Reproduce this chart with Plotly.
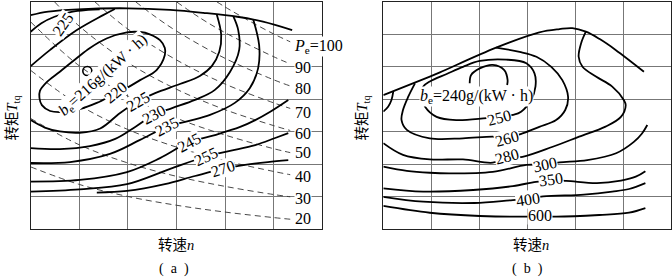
import plotly.graph_objects as go

# ---------------- panel (a) data (grid units: x = speed, y = torque) ----------------
A_FULL_X = [0, 0.36, 0.97, 2.0, 2.87, 3.55, 4.25, 4.78, 5.38]
A_FULL_Y = [6.59, 6.70, 6.77, 6.80, 6.75, 6.66, 6.54, 6.39, 6.13]

A_225A_X = [0, 0.22, 0.49, 0.84, 1.18, 1.42]
A_225A_Y = [6.08, 6.34, 6.54, 6.69, 6.75, 6.77]

A_225B_X = [0, 0.40, 0.95, 1.49, 1.73]
A_225B_Y = [5.02, 5.52, 6.13, 6.59, 6.78]

A_220_X = [2.76, 2.59, 2.25, 1.98, 1.69, 1.36, 1.01, 0.66, 0.40, 0.23, 0.18, 0.19, 0.33,
           0.60, 0.95, 1.22, 1.56, 1.98, 2.25, 2.45, 2.66, 2.76, 2.76]
A_220_Y = [5.36, 4.90, 4.59, 4.35, 4.13, 3.89, 3.70, 3.61, 3.64, 3.82, 4.04, 4.26, 4.53,
           4.85, 5.27, 5.58, 5.87, 6.06, 6.07, 6.00, 5.82, 5.58, 5.36]

A_225_X = [0, 0.29, 0.60, 1.01, 1.43, 1.84, 2.21, 2.56, 3.07, 3.48, 3.73, 3.88, 3.92, 3.83]
A_225_Y = [3.36, 3.13, 3.01, 2.97, 3.10, 3.58, 3.94, 4.19, 4.47, 4.72, 5.03, 5.46, 5.98, 6.60]

A_230_X = [0, 0.60, 1.22, 1.74, 2.15, 2.54, 2.91, 3.38, 3.79, 4.10, 4.29, 4.27, 4.17]
A_230_Y = [2.50, 2.47, 2.56, 2.78, 3.15, 3.53, 3.73, 3.98, 4.29, 4.84, 5.52, 6.13, 6.55]

A_235_X = [0, 0.81, 1.63, 2.25, 2.80, 3.24, 3.69, 4.20, 4.51, 4.68, 4.70, 4.58]
A_235_Y = [2.04, 2.07, 2.32, 2.75, 3.15, 3.33, 3.52, 3.89, 4.35, 4.96, 5.67, 6.45]

A_245_X = [0, 1.01, 1.98, 2.66, 3.26, 3.79, 4.31, 4.62, 4.92, 5.30]
A_245_Y = [1.47, 1.52, 1.76, 2.19, 2.68, 2.90, 3.15, 3.36, 3.61, 3.98]

A_255_X = [0, 1.01, 1.98, 2.87, 3.61, 4.10, 4.62, 5.03, 5.30]
A_255_Y = [1.16, 1.23, 1.39, 1.86, 2.24, 2.41, 2.59, 2.81, 2.96]

A_270_X = [1.36, 1.98, 2.76, 3.38, 3.96, 4.41, 4.88, 5.30]
A_270_Y = [1.13, 1.18, 1.39, 1.64, 1.86, 1.98, 2.07, 2.13]

A_BEST_X = [1.165]
A_BEST_Y = [4.87]

# constant-power lines (kW)
P_LEVELS = [20, 30, 40, 50, 60, 70, 80, 90, 100]
P20_X = [0, 1, 2, 3, 4, 5, 5.34];  P20_Y = [1.92, 1.38, 1.01, 0.74, 0.53, 0.36, 0.31]
P30_X = [0, 1, 2, 3, 4, 5, 5.34];  P30_Y = [3.41, 2.60, 2.04, 1.63, 1.32, 1.07, 1.00]
P40_X = [0, 1, 2, 3, 4, 5, 5.34];  P40_Y = [4.89, 3.82, 3.07, 2.53, 2.11, 1.78, 1.68]
P50_X = [0, 1, 2, 3, 4, 5, 5.34];  P50_Y = [6.38, 5.03, 4.10, 3.42, 2.90, 2.48, 2.36]
P60_X = [0.49, 1, 2, 3, 4, 5, 5.34];  P60_Y = [7.0, 6.25, 5.13, 4.31, 3.68, 3.19, 3.04]
P70_X = [1.32, 2, 3, 4, 5, 5.34];  P70_Y = [7.0, 6.16, 5.21, 4.47, 3.89, 3.72]
P80_X = [2.16, 2.5, 3, 4, 5, 5.34];  P80_Y = [7.0, 6.61, 6.10, 5.26, 4.60, 4.41]
P90_X = [3.0, 3.5, 4, 5, 5.34];  P90_Y = [7.0, 6.49, 6.05, 5.31, 5.09]
P100_X = [3.83, 4, 4.5, 5, 5.34];  P100_Y = [7.0, 6.84, 6.41, 6.01, 5.77]
P_LABEL_Y = [0.32, 0.96, 1.64, 2.35, 2.96, 3.59, 4.32, 4.99, 5.64]

A_LABELS = ["225", "220", "225", "230", "235", "245", "255", "270"]
A_LABEL_X = [0.66, 1.75, 2.21, 2.54, 2.80, 3.26, 3.61, 3.96]
A_LABEL_Y = [6.30, 4.20, 3.94, 3.53, 3.15, 2.68, 2.24, 1.86]
A_MIN_TEXT = "<i>b</i><sub>e</sub>=216g/(kW · h)"
A_MIN_XY = (1.49, 4.72)

# ---------------- panel (b) data ----------------
B_FULL_X = [0, 0.97, 1.18, 2.35, 3.25, 3.67, 3.94, 4.22, 4.50, 4.84, 5.43]
B_FULL_Y = [4.13, 4.70, 4.83, 5.59, 6.06, 6.16, 6.19, 6.08, 5.86, 5.52, 4.85]

B_SMALL_X = [0.21, 0.17, 0.10, 0]
B_SMALL_Y = [4.25, 3.98, 3.77, 3.62]

B_240_X = [1.80, 1.83, 2.01, 2.28, 2.52, 2.59, 2.58]
B_240_Y = [4.49, 4.75, 4.95, 5.06, 4.90, 4.59, 4.44]

B_250_X = [0.83, 0.97, 1.32, 1.66, 2.01, 2.56, 2.98, 3.15, 3.17, 3.08, 2.87, 2.70, 2.42,
           2.15, 1.52, 1.11, 0.87, 0.80, 0.83]
B_250_Y = [4.39, 4.55, 4.78, 5.00, 5.18, 5.22, 5.11, 4.80, 4.39, 3.98, 3.62, 3.52, 3.45,
           3.42, 3.36, 3.46, 3.77, 4.08, 4.39]

B_260_X = [0.66, 0.52, 0.41, 0.38, 0.49, 0.97, 1.66, 2.28, 2.58, 2.90, 3.25, 3.60, 3.79,
           3.85, 3.73, 3.50, 3.19, 2.84, 2.35]
B_260_Y = [4.49, 4.08, 3.67, 3.36, 3.06, 2.80, 2.80, 2.85, 2.82, 2.95, 3.15, 3.36, 3.67,
           4.07, 4.59, 5.00, 5.31, 5.46, 5.59]

B_280_X = [0, 0.41, 0.97, 1.66, 2.28, 2.57, 2.90, 3.53, 4.08, 4.63, 4.95, 5.05, 5.01, 4.77,
           4.43, 4.15, 4.07, 4.12, 4.22]
B_280_Y = [2.65, 2.29, 2.15, 2.15, 2.05, 2.20, 2.23, 2.54, 2.85, 3.16, 3.46, 3.82, 3.98, 4.39,
           4.70, 5.00, 5.31, 5.72, 6.08]

B_300_X = [0, 0.49, 0.97, 1.38, 2.28, 2.98, 3.37, 3.67, 4.25, 4.85, 5.22, 5.39, 5.50]
B_300_Y = [1.93, 1.80, 1.74, 1.72, 1.77, 1.98, 2.00, 2.06, 2.13, 2.34, 2.69, 2.95, 3.21]

B_350_X = [0, 0.83, 1.87, 2.70, 3.18, 3.49, 3.81, 4.45, 4.95, 5.26, 5.46]
B_350_Y = [1.26, 1.16, 1.21, 1.33, 1.46, 1.50, 1.49, 1.42, 1.50, 1.62, 1.79]

B_400_X = [0, 0.83, 1.90, 2.70, 3.01, 3.33, 4.18, 4.77, 5.12, 5.46]
B_400_Y = [1.00, 0.85, 0.81, 0.90, 0.93, 1.01, 1.07, 1.16, 1.24, 1.42]

B_600_X = [0, 0.97, 2.01, 2.98, 3.27, 3.60, 4.50, 5.12, 5.46]
B_600_Y = [0.72, 0.51, 0.41, 0.39, 0.41, 0.39, 0.44, 0.51, 0.65]

B_LABELS = ["250", "260", "280", "300", "350", "400", "600"]
B_LABEL_X = [2.42, 2.58, 2.57, 3.37, 3.49, 3.01, 3.27]
B_LABEL_Y = [3.45, 2.80, 2.24, 1.99, 1.52, 0.93, 0.42]
B_MIN_TEXT = "<i>b</i><sub>e</sub>=240g/(kW · h)"
B_MIN_XY = (1.94, 4.10)

# ---------------- styles ----------------
W, H = 672, 280
NUM_FONT = "Liberation Serif, Times New Roman, serif"
CJK_FONT = "Liberation Serif, Noto Sans CJK SC, serif"
A_ANGLES = [-55, -40, -30, -28, -28, -28, -25, -18]
B_ANGLES = [-15, -15, -15, -12, -8, -8, 0]

fig = go.Figure()


def curve(xs, ys, sub, dash=None, width=1.8, color="black"):
    xa, ya = ("x", "y") if sub == 1 else ("x2", "y2")
    fig.add_trace(go.Scatter(
        x=xs, y=ys, mode="lines", xaxis=xa, yaxis=ya, hoverinfo="skip",
        line=dict(color=color, width=width, shape="spline", smoothing=1.0,
                  dash=dash)))


def label(text, x, y, sub, angle=0, size=16, bg="white", xanchor="center"):
    xr, yr = ("x", "y") if sub == 1 else ("x2", "y2")
    fig.add_annotation(x=x, y=y, xref=xr, yref=yr, text=text, showarrow=False,
                       textangle=angle, xanchor=xanchor, yanchor="middle",
                       font=dict(family=NUM_FONT, size=size, color="black"),
                       bgcolor=bg, borderpad=0)


# power lines (dashed)
P_SERIES = [(P20_X, P20_Y), (P30_X, P30_Y), (P40_X, P40_Y), (P50_X, P50_Y),
            (P60_X, P60_Y), (P70_X, P70_Y), (P80_X, P80_Y), (P90_X, P90_Y),
            (P100_X, P100_Y)]
for xs, ys in P_SERIES:
    curve(xs, ys, 1, dash="6px,4px", width=0.9, color="#333333")

# panel (a) contours
for xs, ys in [(A_FULL_X, A_FULL_Y), (A_225A_X, A_225A_Y), (A_225B_X, A_225B_Y),
               (A_220_X, A_220_Y), (A_225_X, A_225_Y), (A_230_X, A_230_Y),
               (A_235_X, A_235_Y), (A_245_X, A_245_Y), (A_255_X, A_255_Y),
               (A_270_X, A_270_Y)]:
    curve(xs, ys, 1)

fig.add_trace(go.Scatter(x=A_BEST_X, y=A_BEST_Y, mode="markers", hoverinfo="skip",
                         marker=dict(symbol="circle-open", size=9, color="black",
                                     line=dict(width=1.6))))

# panel (b) contours
for xs, ys in [(B_FULL_X, B_FULL_Y), (B_SMALL_X, B_SMALL_Y), (B_240_X, B_240_Y),
               (B_250_X, B_250_Y), (B_260_X, B_260_Y), (B_280_X, B_280_Y),
               (B_300_X, B_300_Y), (B_350_X, B_350_Y), (B_400_X, B_400_Y),
               (B_600_X, B_600_Y)]:
    curve(xs, ys, 2)

# contour labels
for t, x, y, a in zip(A_LABELS, A_LABEL_X, A_LABEL_Y, A_ANGLES):
    label(t, x, y, 1, a)
label(A_MIN_TEXT, A_MIN_XY[0], A_MIN_XY[1], 1, -42)
for t, x, y, a in zip(B_LABELS, B_LABEL_X, B_LABEL_Y, B_ANGLES):
    label(t, x, y, 2, a)
label(B_MIN_TEXT, B_MIN_XY[0], B_MIN_XY[1], 2, 0)

# power labels at the right of panel (a)
for p, y in zip(P_LEVELS, P_LABEL_Y):
    if p == 100:
        label("<i>P</i><sub>e</sub>=100", 5.40, y, 1, 0, xanchor="left")
    else:
        label(str(p), 5.41, y, 1, 0, xanchor="left")


# axis titles and captions (paper coords)
def paper_text(text, px, py, angle=0, size=14.5):
    fig.add_annotation(x=px / W, y=1 - py / H, xref="paper", yref="paper", text=text,
                       showarrow=False, textangle=angle, xanchor="center",
                       yanchor="middle", font=dict(family=CJK_FONT, size=size,
                                                   color="black"))


paper_text("转矩<i>T</i><sub>tq</sub>", 12.5, 118, -90)
paper_text("转矩<i>T</i><sub>tq</sub>", 362.5, 118, -90)
paper_text("转速<i>n</i>", 175.5, 244.5)
paper_text("转速<i>n</i>", 531, 244.5)
paper_text("(\u2002a\u2002)", 174, 269, size=14)
paper_text("(\u2002b\u2002)", 527, 269, size=14)

ydom = [1 - 229.3 / H, 1 - 1.8 / H]
ax_common = dict(range=[0, 6], dtick=1, tick0=0, showgrid=True, gridcolor="#777777",
                 gridwidth=1, showticklabels=False, ticks="", zeroline=False,
                 showline=True, linecolor="#222222", linewidth=1, mirror=True,
                 fixedrange=True)
ay_common = dict(range=[0, 7], dtick=1, tick0=0, showgrid=True, gridcolor="#777777",
                 gridwidth=1, showticklabels=False, ticks="", zeroline=False,
                 showline=True, linecolor="#222222", linewidth=1, mirror=True,
                 fixedrange=True, domain=ydom)

fig.update_layout(
    width=W, height=H, margin=dict(l=0, r=0, t=0, b=0), showlegend=False,
    paper_bgcolor="white", plot_bgcolor="white",
    font=dict(family=NUM_FONT),
    xaxis=dict(ax_common, domain=[30.7 / W, 322.3 / W]),
    yaxis=dict(ay_common),
    xaxis2=dict(ax_common, domain=[383.3 / W, 671.3 / W], anchor="y2"),
    yaxis2=dict(ay_common, anchor="x2"),
)

fig.write_html("out.html")
